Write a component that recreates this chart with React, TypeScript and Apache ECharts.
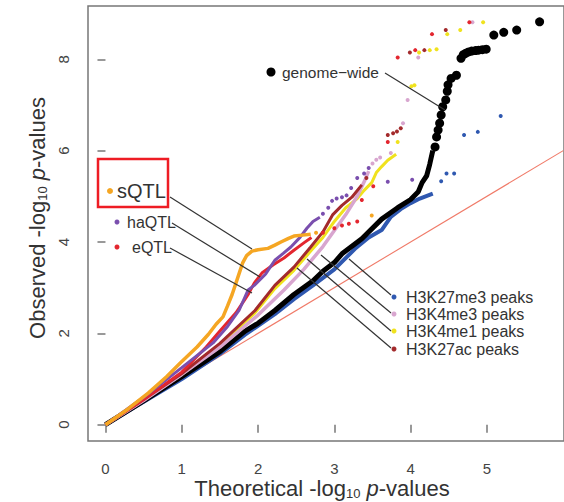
import React, { useEffect, useRef } from "react";
import * as echarts from "echarts";

// ---------- data ----------
const xTicks = [0, 1, 2, 3, 4, 5];
const yTicks = [0, 2, 4, 6, 8];

const diagonal = [[0, 0], [6.0, 6.0]];

const genomeBody = [[0, 0], [0.5, 0.52], [1.0, 1.05], [1.5, 1.6], [1.83, 2.05], [2.0, 2.22], [2.22, 2.5], [2.47, 2.85], [2.72, 3.15], [2.85, 3.36], [3.0, 3.55], [3.1, 3.74], [3.36, 4.07], [3.62, 4.5], [3.83, 4.75], [4.0, 4.93], [4.1, 5.1], [4.15, 5.3], [4.21, 5.45], [4.25, 5.7], [4.29, 6.0]];
const genomeTail = [[4.32, 6.08], [4.34, 6.3], [4.36, 6.45], [4.38, 6.6], [4.4, 6.78], [4.42, 6.96], [4.46, 7.11], [4.48, 7.3], [4.49, 7.44], [4.53, 7.58], [4.6, 7.65], [4.66, 8.02], [4.69, 8.1], [4.72, 8.13], [4.76, 8.16], [4.8, 8.18], [4.85, 8.19], [4.89, 8.2], [4.94, 8.21], [4.99, 8.22], [5.09, 8.53], [5.22, 8.59], [5.39, 8.64], [5.69, 8.82]];

const sqtlBody = [[0, 0], [0.3, 0.35], [0.56, 0.69], [0.8, 1.05], [0.98, 1.35], [1.2, 1.7], [1.35, 1.98], [1.45, 2.2], [1.54, 2.36], [1.6, 2.6], [1.66, 2.85], [1.71, 3.1], [1.76, 3.35], [1.8, 3.55], [1.85, 3.7], [1.92, 3.8], [2.0, 3.83], [2.13, 3.86], [2.22, 3.93], [2.3, 4.0], [2.4, 4.08], [2.47, 4.13], [2.58, 4.15], [2.69, 4.17]];
const sqtlTail = [[2.76, 4.2], [3.49, 4.58]];

const haqtlBody = [[0, 0], [0.5, 0.6], [1.0, 1.25], [1.41, 1.79], [1.6, 2.15], [1.75, 2.5], [1.87, 2.95], [1.95, 3.05], [2.1, 3.3], [2.22, 3.6], [2.33, 3.75], [2.43, 3.89], [2.55, 4.1], [2.64, 4.3], [2.72, 4.45], [2.81, 4.54]];
const haqtlTail = [[2.85, 4.62], [2.92, 4.75], [2.97, 4.9], [3.03, 4.95], [3.1, 4.98], [3.16, 5.02], [3.22, 5.18], [3.3, 5.4], [3.39, 5.5], [3.45, 5.62], [3.7, 5.32], [4.02, 5.36]];

const eqtlBody = [[0, 0], [0.5, 0.55], [1.0, 1.15], [1.32, 1.7], [1.5, 2.05], [1.71, 2.45], [1.83, 2.75], [1.87, 2.85], [1.95, 3.1], [2.05, 3.32], [2.2, 3.5], [2.34, 3.65], [2.47, 3.82], [2.6, 3.98], [2.7, 4.1]];
const eqtlTail = [[2.85, 4.2], [3.0, 4.3], [3.1, 4.36], [3.19, 4.4], [3.3, 4.45], [3.36, 4.92], [3.51, 5.22], [3.7, 6.19], [3.83, 8.04], [4.06, 8.2], [4.28, 8.55], [4.77, 8.81]];

const k27me3Body = [[0, 0], [0.5, 0.5], [1.0, 1.0], [1.5, 1.55], [1.83, 1.97], [2.22, 2.42], [2.47, 2.75], [2.72, 3.05], [3.0, 3.4], [3.27, 3.85], [3.45, 4.1], [3.62, 4.26], [3.74, 4.55], [3.87, 4.72], [4.0, 4.85], [4.12, 4.95], [4.29, 5.06]];
const k27me3Tail = [[4.4, 5.33], [4.47, 5.5], [4.57, 5.5], [4.7, 6.34], [4.88, 6.41], [5.18, 6.76]];

const k4me3Body = [[0, 0], [0.5, 0.53], [1.0, 1.1], [1.5, 1.7], [2.0, 2.4], [2.34, 2.95], [2.6, 3.4], [2.85, 3.9], [3.0, 4.25], [3.15, 4.6], [3.3, 5.0], [3.4, 5.35], [3.45, 5.55]];
const k4me3Tail = [[3.5, 5.72], [3.55, 5.8], [3.6, 5.85], [3.74, 5.95], [3.9, 6.6], [3.96, 7.11], [4.1, 8.04], [4.81, 8.81]];

const k4me1Body = [[0, 0], [0.5, 0.54], [1.0, 1.1], [1.5, 1.74], [1.96, 2.45], [2.22, 2.98], [2.47, 3.38], [2.69, 3.8], [2.85, 4.1], [3.0, 4.45], [3.15, 4.75], [3.3, 4.95], [3.39, 5.13], [3.49, 5.3], [3.55, 5.52], [3.62, 5.65], [3.7, 5.79], [3.81, 5.92]];
const k4me1Tail = [[3.83, 6.19], [4.01, 7.41], [4.05, 7.43], [4.11, 8.15], [4.25, 8.2], [4.34, 8.22], [4.48, 8.55], [4.65, 8.64], [4.95, 8.81]];

const k27acBody = [[0, 0], [0.5, 0.55], [1.0, 1.12], [1.5, 1.78], [1.96, 2.5], [2.22, 3.05], [2.47, 3.45], [2.69, 3.89], [2.85, 4.22], [2.98, 4.6], [3.1, 4.8], [3.23, 4.98], [3.36, 5.25]];
const k27acTail = [[3.42, 5.4], [3.7, 6.34], [3.77, 6.38], [3.82, 6.42], [3.87, 6.49], [3.99, 8.15], [4.18, 8.2], [4.46, 8.64]];

// ---------- styling ----------
const FONT = "'Liberation Sans', Arial, Helvetica, sans-serif";
const C = {
  black: "#000000",
  orange: "#f5a623",
  purple: "#7a4fae",
  red: "#e3262f",
  blue: "#2f58b0",
  pink: "#d8a6cf",
  yellow: "#f0e21e",
  brown: "#a32a2c",
  diag: "#f07a68",
  axis: "#777777",
  text: "#333333",
};

function lineSeries(data: number[][], color: string, width: number) {
  return { type: "line", data, symbol: "none", lineStyle: { color, width }, itemStyle: { color }, silent: true, z: 2 };
}
function dotSeries(data: number[][], color: string, size: number) {
  return { type: "scatter", data, symbolSize: size, itemStyle: { color, opacity: 1 }, silent: true, z: 3 };
}

function label(x: number, y: number, text: string, size: number) {
  return { type: "text", x, y, style: { text, fontSize: size, fontFamily: FONT, fill: C.text, align: "left", verticalAlign: "middle" }, z: 100 };
}
function dot(x: number, y: number, r: number, color: string) {
  return { type: "circle", shape: { cx: x, cy: y, r }, style: { fill: color }, z: 100 };
}
function leader(x1: number, y1: number, x2: number, y2: number) {
  return { type: "line", shape: { x1, y1, x2, y2 }, style: { stroke: "#333", lineWidth: 1.2 }, z: 100 };
}

export default function App() {
  const ref = useRef<HTMLDivElement>(null);
  useEffect(() => {
    if (!ref.current) return;
    const chart = echarts.init(ref.current, null, { renderer: "svg" });
    const titleRich = {
      a: { fontSize: 22, fontFamily: FONT, fill: "#333" },
      s: { fontSize: 13, fontFamily: FONT, fill: "#333", padding: [10, 0, 0, 0] },
      i: { fontSize: 22, fontFamily: FONT, fontStyle: "italic", fill: "#333" },
    };
    const option: any = {
      animation: false,
      grid: { left: 88, top: 6, width: 490, height: 435, show: true, borderColor: C.axis, borderWidth: 1.5, containLabel: false },
      xAxis: {
        type: "value",
        min: -0.229,
        max: 6.01,
        axisLine: { show: false },
        splitLine: { show: false },
        axisTick: { show: true, length: 8, lineStyle: { color: C.axis, width: 1.5 }, customValues: xTicks },
        axisLabel: { customValues: xTicks, fontSize: 15, fontFamily: FONT, color: "#444", margin: 20 },
      },
      yAxis: {
        type: "value",
        min: -0.357,
        max: 9.166,
        axisLine: { show: false },
        splitLine: { show: false },
        axisTick: { show: true, length: 8, lineStyle: { color: C.axis, width: 1.5 }, customValues: yTicks },
        axisLabel: { customValues: yTicks, rotate: 90, fontSize: 15, fontFamily: FONT, color: "#444", margin: 17 },
      },
      series: [
        { type: "line", data: diagonal, symbol: "none", lineStyle: { color: C.diag, width: 1.1 }, silent: true, z: 1 },
        lineSeries(k27me3Body, C.blue, 4),
        dotSeries(k27me3Tail, C.blue, 4),
        lineSeries(genomeBody, C.black, 5),
        dotSeries(genomeTail, C.black, 9),
        lineSeries(k4me1Body, C.yellow, 3),
        dotSeries(k4me1Tail, C.yellow, 4),
        lineSeries(k4me3Body, C.pink, 3.5),
        dotSeries(k4me3Tail, C.pink, 4),
        lineSeries(k27acBody, C.brown, 3),
        dotSeries(k27acTail, C.brown, 4),
        lineSeries(eqtlBody, C.red, 3),
        dotSeries(eqtlTail, C.red, 4),
        lineSeries(haqtlBody, C.purple, 3),
        dotSeries(haqtlTail, C.purple, 4),
        lineSeries(sqtlBody, C.orange, 3.5),
        dotSeries(sqtlTail, C.orange, 4),
      ],
      graphic: [
        // axis titles
        {
          type: "text", x: 322, y: 488, z: 100,
          style: { text: "{a|Theoretical -log}{s|10}{i| p}{a|-values}", rich: titleRich, align: "center", verticalAlign: "middle" },
        },
        {
          type: "text", x: 37, y: 218, rotation: Math.PI / 2, z: 100,
          style: { text: "{a|Observed -log}{s|10}{i| p}{a|-values}", rich: titleRich, align: "center", verticalAlign: "middle" },
        },
        // labels
        { type: "rect", shape: { x: 98, y: 159, width: 70, height: 48 }, style: { fill: "none", stroke: "#ee1c24", lineWidth: 2.5 }, z: 100 },
        dot(110, 191, 3, C.orange), label(117, 191, "sQTL", 20),
        dot(117, 222, 2.5, C.purple), label(127, 222, "haQTL", 16),
        dot(117, 247, 2.5, C.red), label(132, 247, "eQTL", 16),
        dot(271, 72, 4.5, C.black), label(282, 72, "genome−wide", 15.5),
        dot(394, 297, 2.5, C.blue), label(406, 297, "H3K27me3 peaks", 16),
        dot(394, 314, 2.5, C.pink), label(406, 314, "H3K4me3 peaks", 16),
        dot(394, 331, 2.5, C.yellow), label(406, 331, "H3K4me1 peaks", 16),
        dot(394, 349, 2.5, C.brown), label(406, 349, "H3K27ac peaks", 16),
        leader(170, 197, 252, 249),
        leader(172, 223, 260, 277),
        leader(170, 248, 252, 293),
        leader(385, 73, 445, 110),
        leader(349, 259, 391, 295),
        leader(321, 255, 391, 313),
        leader(307, 259, 391, 331),
        leader(297, 268, 391, 348),
      ],
    };
    chart.setOption(option);
    return () => chart.dispose();
  }, []);
  return <div ref={ref} style={{ position: "absolute", left: 0, top: 0, width: 564, height: 502 }} />;
}
